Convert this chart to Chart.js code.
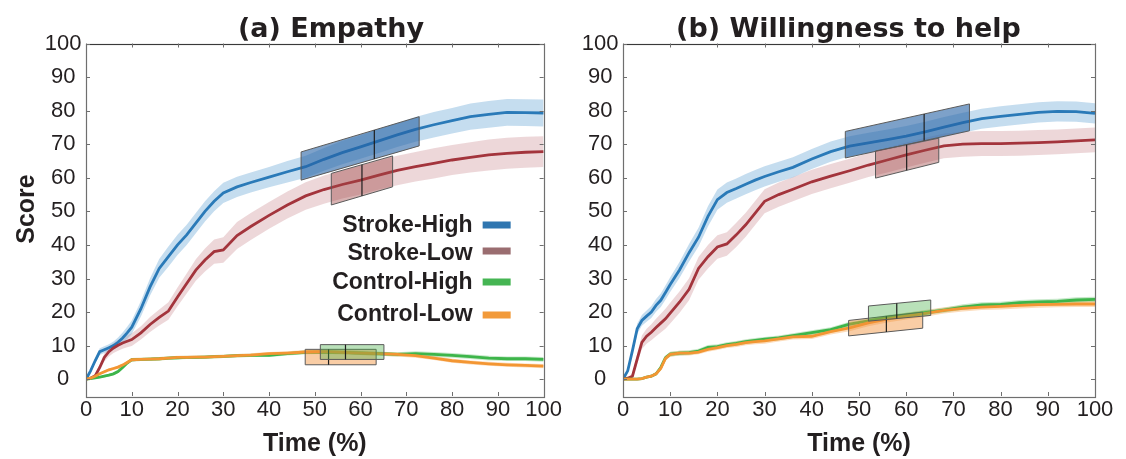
<!DOCTYPE html>
<html><head><meta charset="utf-8">
<script src="https://cdn.jsdelivr.net/npm/chart.js@4.4.1/dist/chart.umd.min.js"></script>
<style>
html,body{margin:0;padding:0;background:#fff;width:1126px;height:459px;overflow:hidden}
.panel{position:absolute;top:0;width:563px;height:459px}
#p1{left:0}#p2{left:563px}
</style></head><body>
<div class="panel" id="p1"><canvas id="c1" width="563" height="459"></canvas></div>
<div class="panel" id="p2"><canvas id="c2" width="563" height="459"></canvas></div>
<script>
// ---------------- data ----------------
const TIME = [0,1,2,3,4,5,6,7,8,9,10,12,14,16,18,20,22,24,26,28,30,33,36,40,44,48,52,56,60,64,68,72,76,80,84,88,92,96,100];
const X_TICKS = [0,10,20,30,40,50,60,70,80,90,100];
const Y_TICKS = [0,10,20,30,40,50,60,70,80,90,100];
const SERIES_NAMES = ['Stroke-High','Stroke-Low','Control-High','Control-Low'];
const PANEL_TITLES = ['(a) Empathy','(b) Willingness to help'];
const X_TITLE = 'Time (%)';
const Y_TITLE = 'Score';

// (a) Empathy
const EMP_SH = [0,2.5,5.5,8.2,8.8,9.4,10,11,12.3,13.8,15.5,21,27.5,33,36.5,40,43,46.5,50,53,55.5,57.3,58.6,60.2,61.8,63.3,65.5,67.5,69.2,71,72.8,74.4,75.8,77,78.2,78.9,79.5,79.4,79.3];
const EMP_SH_SE = [0,0.5,0.8,1,1,1,1.2,1.4,1.6,1.8,2,2.3,2.6,2.8,3,3,3,3,3,3,3,3,3,3,3.2,3.3,3.4,3.5,3.5,3.6,3.6,3.7,3.8,3.8,3.9,4,4,4,4];
const EMP_SL = [0,0.3,1,3.5,6.5,8.2,9.3,10.1,10.8,11.3,11.8,13.8,16.3,18.4,20.3,24.5,28.5,32.5,35.5,38,38.5,42.8,45.5,48.8,51.9,54.6,56.5,58,59.3,60.8,62.2,63.3,64.3,65.3,66.1,66.8,67.3,67.6,67.8];
const EMP_SL_SE = [0,0.3,0.6,0.9,1.2,1.4,1.5,1.6,1.7,1.8,1.9,2,2.2,2.4,2.6,2.8,3,3.2,3.4,3.6,3.8,4,4,4,4,4.1,4.2,4.2,4.3,4.3,4.4,4.4,4.5,4.5,4.5,4.6,4.6,4.6,4.6];
const EMP_CH = [0,0.2,0.4,0.6,0.9,1.2,1.6,2.3,3.5,4.8,5.8,5.9,6,6.1,6.3,6.4,6.5,6.5,6.6,6.7,6.8,7,7.1,7.1,7.6,8,8.1,8,7.8,7.6,7.4,7.6,7.4,7.1,6.7,6.3,6.1,6.1,5.9];
const EMP_CH_SE = [0,0.2,0.3,0.3,0.4,0.4,0.4,0.5,0.5,0.5,0.5,0.5,0.5,0.5,0.5,0.5,0.5,0.5,0.5,0.5,0.5,0.5,0.5,0.5,0.5,0.6,0.6,0.6,0.6,0.6,0.6,0.7,0.7,0.7,0.7,0.7,0.7,0.7,0.7];
const EMP_CL = [0,0.3,0.9,1.6,2.2,2.8,3.2,3.6,4.2,5,5.8,5.9,6,6.1,6.3,6.5,6.5,6.6,6.6,6.7,6.8,7,7.2,7.6,7.8,8.1,8.2,8,7.8,7.6,7.4,7,6.3,5.5,5,4.6,4.3,4.1,3.9];
const EMP_CL_SE = [0,0.2,0.3,0.3,0.4,0.4,0.4,0.5,0.5,0.5,0.5,0.5,0.5,0.5,0.5,0.5,0.5,0.5,0.5,0.5,0.5,0.5,0.5,0.5,0.5,0.6,0.6,0.6,0.6,0.6,0.6,0.6,0.6,0.6,0.6,0.6,0.6,0.6,0.6];

// (b) Willingness to help
const WIL_SH = [0,2.5,8.5,15,17.5,18.8,20,22,23.5,25.8,28.2,32.6,37.7,42.3,48.5,53.5,55.6,56.8,58.1,59.3,60.4,61.8,63.1,65.6,67.8,69.4,70.4,71.4,72.4,73.7,75.1,76.4,77.6,78.3,78.9,79.5,79.8,79.7,79.2];
const WIL_SH_SE = [0,0.5,1,1.5,1.6,1.7,1.8,1.9,2,2.1,2.2,2.4,2.6,2.8,3,3,3,3,3,3,3,3,3,3,3,3,3,3,3,3,3,3,3,3,3,3,3,3,3];
const WIL_SL = [0,0.3,0.9,6,11,12.8,14,15.4,16.7,18,19.7,23,26.8,33,36.5,39.4,40.3,43,46,49.5,53,55,56.6,58.8,60.5,62.1,63.8,65.3,66.8,68.2,69.5,70,70.2,70.2,70.3,70.5,70.7,71,71.3];
const WIL_SL_SE = [0,0.3,0.8,1.5,2,2.2,2.4,2.6,2.8,3,3.1,3.2,3.3,3.4,3.5,3.5,3.5,3.6,3.6,3.6,3.6,3.6,3.6,3.6,3.6,3.6,3.6,3.7,3.7,3.7,3.7,3.7,3.7,3.7,3.7,3.7,3.7,3.7,3.7];
const WIL_CH = [0,0,0,0,0.2,0.6,0.9,1.6,3.5,6.4,7.5,7.8,7.9,8.4,9.5,9.7,10.3,10.7,11.2,11.6,11.9,12.3,13,13.9,14.8,16.4,17.4,18.4,19.1,19.8,20.6,21.5,22.1,22.3,22.8,23,23.2,23.6,23.8];
const WIL_CH_SE = [0,0,0,0.1,0.2,0.3,0.4,0.5,0.6,0.7,0.7,0.7,0.7,0.7,0.7,0.7,0.7,0.7,0.7,0.7,0.7,0.7,0.7,0.7,0.7,0.7,0.7,0.7,0.7,0.7,0.7,0.8,0.8,0.8,0.8,0.8,0.8,0.8,0.8];
const WIL_CL = [0,0,0,0,0.2,0.6,0.9,1.6,3.2,6.2,7.4,7.8,7.8,8.1,8.9,9.4,10,10.4,10.9,11.2,11.4,12,12.6,12.8,14.2,15.3,16.8,17.9,18.8,19.6,20.5,21.1,21.5,21.7,22,22.2,22.3,22.4,22.4];
const WIL_CL_SE = [0,0,0,0.1,0.2,0.3,0.4,0.5,0.6,0.7,0.7,0.7,0.7,0.7,0.7,0.7,0.7,0.8,0.8,0.8,0.8,0.8,0.8,0.8,0.9,1,1,1,1,1,0.9,0.9,0.9,0.9,0.9,0.9,0.9,0.9,0.9];

// slope boxes: [x left, x middle, x right, top at left, bottom at left, top at right, bottom at right]
const EMP_BOX_SH = [47.0,63.0,72.8,67.7,59.3,78.2,69.5];
const EMP_BOX_SL = [53.6,60.3,67.0,61.3,51.9,66.5,57.3];
const EMP_BOX_CH = [51.2,56.7,65.1,10.3,5.9,10.3,5.9];
const EMP_BOX_CL = [47.9,53.0,63.4,8.9,4.3,8.9,4.3];
const WIL_BOX_SH = [47.1,63.8,73.4,73.8,65.9,82.0,74.0];
const WIL_BOX_SL = [53.5,60.1,66.9,68.0,59.9,71.8,64.6];
const WIL_BOX_CH = [52.0,58.0,65.2,21.8,17.3,23.6,19.0];
const WIL_BOX_CL = [47.8,55.8,63.5,17.5,12.9,20.0,15.2];

// ---------------- style ----------------
const LINE_COLORS = ['#2a7ab8','#a3343c','#3db54a','#f39633'];
const BAND_COLORS = ['rgba(110,170,215,0.40)','rgba(185,100,110,0.26)','rgba(70,180,80,0.30)','rgba(245,155,60,0.35)'];
const SWATCH_COLORS = ['#2f76b0','#9a6d70','#45b553','#f29a3a'];
const BOX_COLORS = ['rgba(38,98,165,0.60)','rgba(160,70,70,0.42)','rgba(70,175,70,0.38)','rgba(242,145,55,0.45)'];
const TEXT = '#231f20';
const FRAME = '#6f6f6f';

function buildDatasets(vals, ses) {
  const ds = [];
  vals.forEach((v, i) => {
    const up = ds.length;
    ds.push({data: TIME.map((t,k)=>({x:t, y:v[k]+ses[i][k]})), borderWidth:0, pointRadius:0, fill:false, order:10});
    ds.push({data: TIME.map((t,k)=>({x:t, y:v[k]-ses[i][k]})), borderWidth:0, pointRadius:0, fill:up, backgroundColor:BAND_COLORS[i], order:10});
  });
  vals.forEach((v, i) => {
    ds.push({label: SERIES_NAMES[i], data: TIME.map((t,k)=>({x:t, y:v[k]})), borderColor:LINE_COLORS[i], borderWidth:2.8, pointRadius:0, fill:false, tension:0, order:4-i});
  });
  return ds;
}

function decoPlugin(p) {
  return {
    id: 'deco' + p.key,
    afterDatasetsDraw(chart) {
      const ctx = chart.ctx, a = chart.chartArea, xs = chart.scales.x, ys = chart.scales.y;
      p.boxOrder.forEach(i => {
        const b = p.boxes[i];
        const X = v => xs.getPixelForValue(v), Y = v => ys.getPixelForValue(v);
        ctx.save();
        ctx.beginPath();
        ctx.moveTo(X(b[0]), Y(b[3]));
        ctx.lineTo(X(b[2]), Y(b[5]));
        ctx.lineTo(X(b[2]), Y(b[6]));
        ctx.lineTo(X(b[0]), Y(b[4]));
        ctx.closePath();
        ctx.fillStyle = BOX_COLORS[i];
        ctx.fill();
        ctx.strokeStyle = '#5a5a5a';
        ctx.lineWidth = 1;
        ctx.stroke();
        const f = (b[1]-b[0])/(b[2]-b[0]);
        const topM = b[3] + (b[5]-b[3])*f, botM = b[4] + (b[6]-b[4])*f;
        ctx.beginPath();
        ctx.moveTo(X(b[1]), Y(topM));
        ctx.lineTo(X(b[1]), Y(botM));
        ctx.strokeStyle = '#1e1e1e';
        ctx.lineWidth = 1.2;
        ctx.stroke();
        ctx.restore();
      });
      ctx.save();
      ctx.lineWidth = 1.2;
      ctx.strokeStyle = FRAME;
      ctx.strokeRect(Math.round(a.left)+0.5, Math.round(a.top)+0.5, Math.round(a.right-a.left), Math.round(a.bottom-a.top));
      ctx.strokeStyle = '#3a3a3a';
      ctx.beginPath(); ctx.moveTo(a.left, Math.round(a.top)+0.5); ctx.lineTo(a.right, Math.round(a.top)+0.5); ctx.stroke();
      ctx.strokeStyle = FRAME;
      ctx.lineWidth = 1;
      const L = 4;
      xs.ticks.forEach(t => {
        const px = Math.round(xs.getPixelForValue(t.value)) + 0.5;
        ctx.beginPath();
        ctx.moveTo(px, a.bottom); ctx.lineTo(px, a.bottom - L);
        ctx.moveTo(px, a.top); ctx.lineTo(px, a.top + L);
        ctx.stroke();
      });
      ys.ticks.forEach(t => {
        const py = Math.round(ys.getPixelForValue(t.value)) + 0.5;
        ctx.beginPath();
        ctx.moveTo(a.left, py); ctx.lineTo(a.left + L, py);
        ctx.moveTo(a.right, py); ctx.lineTo(a.right - L, py);
        ctx.stroke();
      });
      ctx.restore();
    },
    afterDraw(chart) {
      const ctx = chart.ctx, a = chart.chartArea;
      ctx.save();
      ctx.fillStyle = TEXT;
      ctx.font = 'bold 27px "DejaVu Sans"';
      ctx.textAlign = 'center';
      ctx.textBaseline = 'alphabetic';
      ctx.fillText(p.title, p.titleX, 37);
      ctx.font = 'bold 25px "Liberation Sans"';
      ctx.fillText(X_TITLE, (a.left + a.right) / 2, 451);
      if (p.yTitle) {
        ctx.save();
        ctx.translate(33.5, 209);
        ctx.rotate(-Math.PI / 2);
        ctx.fillText(Y_TITLE, 0, 0);
        ctx.restore();
      }
      if (p.legend) {
        const rows = [[232, 225], [260, 251], [289, 282], [321, 315]];
        ctx.font = 'bold 23px "Liberation Sans"';
        ctx.textAlign = 'right';
        SERIES_NAMES.forEach((n, i) => {
          ctx.fillStyle = TEXT;
          ctx.fillText(n, a.right - 71, rows[i][0]);
          ctx.fillStyle = SWATCH_COLORS[i];
          ctx.fillRect(a.right - 61, rows[i][1] - 3.5, 28, 7);
        });
      }
      ctx.restore();
    }
  };
}

function makeChart(id, vals, ses, p) {
  return new Chart(document.getElementById(id), {
    type: 'line',
    data: {datasets: buildDatasets(vals, ses)},
    options: {
      responsive: false,
      animation: false,
      devicePixelRatio: 1,
      layout: {padding: {left: 0, right: p.padRight, top: 43.5, bottom: 0}},
      plugins: {legend: {display: false}, tooltip: {enabled: false}, title: {display: false}},
      scales: {
        x: {
          type: 'linear', min: 0, max: 100,
          afterBuildTicks: s => { s.ticks = X_TICKS.map(v => ({value: v})); },
          afterFit: s => { s.height = 63; },
          grid: {display: false, drawTicks: false},
          border: {display: false},
          ticks: {font: {family: 'Liberation Sans', size: 22}, color: TEXT, padding: 1, maxRotation: 0, autoSkip: false}
        },
        y: {
          type: 'linear', min: -5, max: 100,
          afterBuildTicks: s => { s.ticks = Y_TICKS.map(v => ({value: v})); },
          afterFit: s => { s.width = p.yWidth; },
          grid: {display: false, drawTicks: false},
          border: {display: false},
          ticks: {font: {family: 'Liberation Sans', size: 22}, color: TEXT, padding: 4.5, crossAlign: 'center', autoSkip: false}
        }
      }
    },
    plugins: [decoPlugin(p)]
  });
}

makeChart('c1', [EMP_SH, EMP_SL, EMP_CH, EMP_CL], [EMP_SH_SE, EMP_SL_SE, EMP_CH_SE, EMP_CL_SE],
  {key: 'a', title: PANEL_TITLES[0], titleX: 331, yTitle: true, legend: true, yWidth: 86, padRight: 6,
   boxes: [EMP_BOX_SH, EMP_BOX_SL, EMP_BOX_CH, EMP_BOX_CL], boxOrder: [0, 1, 3, 2]});
makeChart('c2', [WIL_SH, WIL_SL, WIL_CH, WIL_CL], [WIL_SH_SE, WIL_SL_SE, WIL_CH_SE, WIL_CL_SE],
  {key: 'b', title: PANEL_TITLES[1], titleX: 285.5, yTitle: false, legend: false, yWidth: 60, padRight: 31,
   boxes: [WIL_BOX_SH, WIL_BOX_SL, WIL_BOX_CH, WIL_BOX_CL], boxOrder: [0, 1, 3, 2]});
</script>
</body></html>
